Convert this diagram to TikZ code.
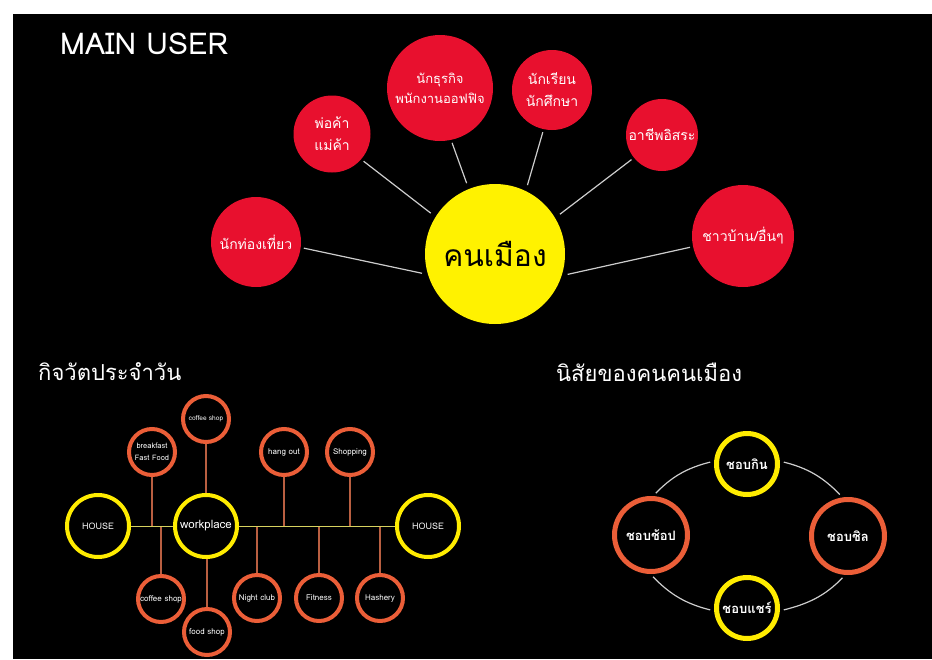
\documentclass[tikz,border=0pt]{standalone}
\usepackage{fontspec}
\newfontfamily\thaifont[Script=Thai]{Loma}

\definecolor{userred}{RGB}{232,16,46}
\definecolor{hubyellow}{RGB}{255,242,0}
\definecolor{houseyellow}{RGB}{255,236,0}
\definecolor{ringorange}{RGB}{235,94,56}
\definecolor{linkgray}{RGB}{205,205,205}
\definecolor{railyellow}{RGB}{215,210,95}
\definecolor{stemorange}{RGB}{185,95,65}

\begin{document}
\begin{tikzpicture}[x=1pt,y=-1pt,
  user/.style={circle,fill=userred,text=white,minimum size=#1,inner sep=0pt,align=center,
    font=\thaifont\fontsize{14}{22}\selectfont},
  hub/.style={circle,fill=hubyellow,minimum size=140pt,inner sep=0pt,
    font=\thaifont\fontsize{30}{36}\selectfont},
  ring/.style={circle,draw=#1,line width=4pt,text=white,minimum size=46pt,inner sep=0pt,
    align=center,font=\thaifont\fontsize{8}{12}\selectfont},
  habit/.style={circle,draw=#1,line width=5pt,text=white,inner sep=0pt,
    font=\thaifont\bfseries\fontsize{13}{16}\selectfont},
  heading/.style={anchor=west,text=white,inner sep=0pt,font=\thaifont\fontsize{22}{26}\selectfont},
  link/.style={draw=linkgray,line width=1.2pt},
  rail/.style={draw=railyellow,line width=1pt},
  stem/.style={draw=stemorange,line width=1.2pt}]

  \useasboundingbox (0,0) rectangle (932,659);
  \fill[white] (0,0) rectangle (932,659);
  \fill[black] (13,14) rectangle (932,659);

  % main user
  \node[heading,font=\thaifont\fontsize{30}{34}\selectfont] (t1) at (60,44) {MAIN USER};
  \node[hub] (hub) at (495,254) {คนเมือง};
  \node[user=90pt] (u1) at (256,242) {นักท่องเที่ยว};
  \node[user=77pt] (u2) at (332,134) {พ่อค้า\\แม่ค้า};
  \node[user=106pt,font=\thaifont\fontsize{13}{20}\selectfont] (u3) at (440,88) {นักธุรกิจ\\พนักงานออฟฟิจ};
  \node[user=80pt] (u4) at (552,90) {นักเรียน\\นักศึกษา};
  \node[user=72pt] (u5) at (662,135) {อาชีพอิสระ};
  \node[user=102pt] (u6) at (743,236) {ชาวบ้าน/อื่นๆ};

  \draw[link,shorten <=6pt,shorten >=3pt] (hub.197) -- (u1.-7);
  \draw[link,shorten <=6pt,shorten >=3pt] (hub.148) -- (u2.-41);
  \draw[link,shorten <=6pt,shorten >=3pt] (hub.112) -- (u3.-78);
  \draw[link,shorten <=6pt,shorten >=3pt] (hub.64) -- (u4.-102);
  \draw[link,shorten <=6pt,shorten >=3pt] (hub.31) -- (u5.-141);
  \draw[link,shorten <=6pt,shorten >=3pt] (hub.-18) -- (u6.-168);

  % daily routine
  \node[heading] (t2) at (38,372) {กิจวัตประจำวัน};
  \node[ring=houseyellow,minimum size=62pt,font=\thaifont\fontsize{9}{11}\selectfont] (h1) at (98,526) {HOUSE};
  \node[ring=houseyellow,minimum size=62pt,font=\thaifont\fontsize{11.5}{13}\selectfont] (wp) at (206,526) {workplace};
  \node[ring=houseyellow,minimum size=62pt,font=\thaifont\fontsize{9}{11}\selectfont] (h2) at (428,526) {HOUSE};
  \node[ring=ringorange,font=\thaifont\fontsize{6.6}{10}\selectfont] (s1) at (206,419) {coffee shop};
  \node[ring=ringorange,font=\thaifont\fontsize{7.5}{12}\selectfont] (s2) at (152,452) {breakfast\\Fast Food};
  \node[ring=ringorange] (s3) at (284,452) {hang out};
  \node[ring=ringorange] (s4) at (350,452) {Shopping};
  \node[ring=ringorange] (s5) at (161,599) {coffee shop};
  \node[ring=ringorange] (s6) at (207,632) {food shop};
  \node[ring=ringorange] (s7) at (257,598) {Night club};
  \node[ring=ringorange] (s8) at (319,598) {Fitness};
  \node[ring=ringorange] (s9) at (380,598) {Hashery};

  \draw[stem] (s1) -- (wp);
  \draw[stem] (s2) -- (s2 |- h1);
  \draw[stem] (s3) -- (s3 |- h1);
  \draw[stem] (s4) -- (s4 |- h1);
  \draw[stem] (s5) -- (s5 |- h1);
  \draw[stem] (s6) -- (s6 |- wp.south);
  \draw[stem] (s7) -- (s7 |- h1);
  \draw[stem] (s8) -- (s8 |- h1);
  \draw[stem] (s9) -- (s9 |- h1);
  \draw[rail] (h1) -- (wp);
  \draw[rail] (wp) -- (h2);

  % habits
  \node[heading] (t3) at (556,372) {นิสัยของคนคนเมือง};
  \node[habit=houseyellow,minimum size=61pt] (k1) at (747,464) {ชอบกิน};
  \node[habit=ringorange,minimum size=73pt] (k2) at (651,535) {ชอบช้อป};
  \node[habit=ringorange,minimum size=73pt] (k3) at (848,536) {ชอบชิล};
  \node[habit=houseyellow,minimum size=61pt] (k4) at (747,608) {ชอบแชร์};

  \draw[link,shorten <=4pt,shorten >=4pt] (k1.175) to[out=194,in=46] (k2.87);
  \draw[link,shorten <=4pt,shorten >=4pt] (k1.5) to[out=-14,in=134] (k3.98);
  \draw[link,shorten <=4pt,shorten >=4pt] (k2.-91) to[out=-46,in=166] (k4.185);
  \draw[link,shorten <=4pt,shorten >=4pt] (k4.-5) to[out=14,in=226] (k3.-94);
\end{tikzpicture}
\end{document}
